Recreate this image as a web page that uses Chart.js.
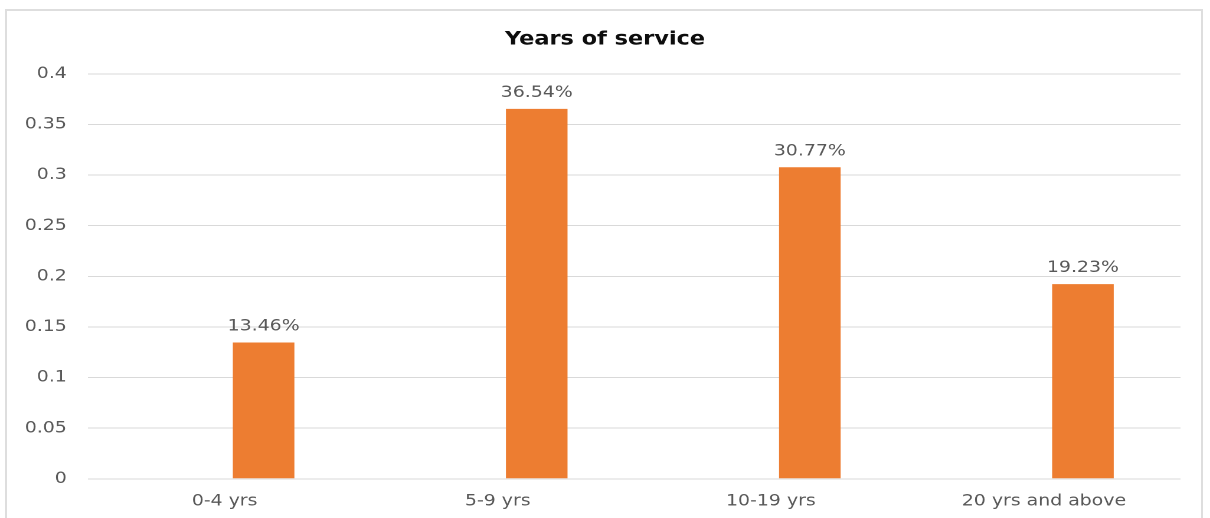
<!DOCTYPE html>
<html lang="en">
<head>
    <meta charset="UTF-8">
    <title>Years of service</title>
    <script src="https://cdn.jsdelivr.net/npm/chart.js"></script>
    <style>
        html, body { margin: 0; padding: 0; background: #fff; overflow: hidden; }
        #frame {
            position: absolute; left: 5px; top: 9px; width: 1198px; height: 530px;
            border: 2px solid #dedede; box-sizing: border-box;
        }
        /* the reference is stretched sideways, so draw narrower and widen it */
        #wrap {
            position: absolute; left: 0; top: 0; width: 1025px; height: 532px;
            transform: scaleX(1.1805); transform-origin: 0 0;
        }
    </style>
</head>
<body>
    <div id="frame"></div>
    <div id="wrap"><canvas id="serviceChart" width="1025" height="532"></canvas></div>

    <script>
        // data
        const categories = ['0-4 yrs', '5-9 yrs', '10-19 yrs', '20 yrs and above'];
        const emptySeries = [null, null, null, null];   // blank first series pushes bars right
        const shares = [0.1346, 0.3654, 0.3077, 0.1923];
        const yTicks = [0, 0.05, 0.1, 0.15, 0.2, 0.25, 0.3, 0.35, 0.4];

        const tickFont = { family: 'DejaVu Sans', size: 16 };

        // percentage labels above the bars
        const barLabels = {
            id: 'barLabels',
            afterDatasetsDraw(chart) {
                const ctx = chart.ctx;
                const meta = chart.getDatasetMeta(1);
                ctx.save();
                ctx.font = '16px "DejaVu Sans"';
                ctx.fillStyle = '#595959';
                ctx.textAlign = 'center';
                ctx.textBaseline = 'alphabetic';
                meta.data.forEach((bar, i) => {
                    ctx.fillText((shares[i] * 100).toFixed(2) + '%', bar.x, bar.y - 12);
                });
                ctx.restore();
            }
        };

        new Chart(document.getElementById('serviceChart'), {
            type: 'bar',
            data: {
                labels: categories,
                datasets: [
                    { label: 'Series1', data: emptySeries, backgroundColor: '#4472C4' },
                    { label: 'Series2', data: shares, backgroundColor: '#ED7D31' }
                ]
            },
            options: {
                responsive: false,
                animation: false,
                devicePixelRatio: 2,
                categoryPercentage: 0.571,
                barPercentage: 0.79,
                layout: { padding: { left: 0, right: 0, top: 0, bottom: 8 } },
                plugins: {
                    legend: { display: false },
                    tooltip: { enabled: false },
                    title: {
                        display: true,
                        text: 'Years of service',
                        color: '#0d0d0d',
                        font: { family: 'DejaVu Sans', size: 19, weight: 'bold' },
                        padding: { top: 28, bottom: 23 }
                    }
                },
                scales: {
                    x: {
                        grid: { display: false, drawTicks: false },
                        border: { display: false },
                        ticks: { color: '#595959', font: tickFont, padding: 13 }
                    },
                    y: {
                        min: 0,
                        max: 0.4,
                        afterBuildTicks: scale => { scale.ticks = yTicks.map(v => ({ value: v })); },
                        afterFit: scale => { scale.width = 74.6; },
                        grid: { color: '#d9d9d9', lineWidth: 1, drawTicks: false },
                        border: { display: false },
                        ticks: {
                            color: '#595959',
                            font: tickFont,
                            padding: 18,
                            callback: v => String(+v.toFixed(2))
                        }
                    },
                    // blank space on the right of the plot, keeps the title centred on the canvas
                    spacer: {
                        type: 'linear',
                        position: 'right',
                        display: true,
                        grid: { display: false, drawTicks: false },
                        border: { display: false },
                        ticks: { display: false },
                        afterFit: scale => { scale.width = 25; }
                    }
                }
            },
            plugins: [barLabels]
        });
    </script>
</body>
</html>
